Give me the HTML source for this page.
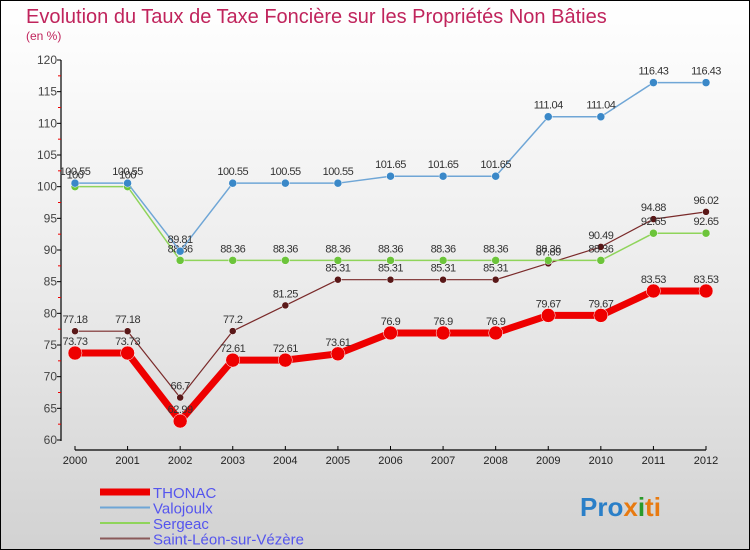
<!DOCTYPE html>
<html><head><meta charset="utf-8"><style>
body{margin:0}
#c{width:750px;height:550px;position:relative;box-sizing:border-box;border:1px solid #000;background:linear-gradient(#fff 0%,#ececec 50%,#d2d2d2 100%);font-family:"Liberation Sans",sans-serif;overflow:hidden}
</style></head><body>
<div id="c">
<svg id="s" width="750" height="550" style="position:absolute;left:-1px;top:-1px">
<text x="26" y="23" font-size="20" fill="#c0245c">Evolution du Taux de Taxe Foncière sur les Propriétés Non Bâties</text>
<text x="26" y="40" font-size="12" fill="#c0245c">(en %)</text>
<g id="axes"></g><g id="series"></g><g id="legend"></g>
<text x="580" y="516" font-size="26" font-weight="bold"><tspan fill="#2a7fc8">Pro</tspan><tspan fill="#e87a10">x</tspan><tspan fill="#2a9a2a">i</tspan><tspan fill="#e87a10">ti</tspan></text>
</svg>
</div>
<script>
const years=[2000,2001,2002,2003,2004,2005,2006,2007,2008,2009,2010,2011,2012];
const yTicks=[60,65,70,75,80,85,90,95,100,105,110,115,120];
const seriesNames=["THONAC","Valojoulx","Sergeac","Saint-Léon-sur-Vézère"];
const thonac=[73.73,73.73,62.99,72.61,72.61,73.61,76.9,76.9,76.9,79.67,79.67,83.53,83.53];
const valojoulx=[100.55,100.55,89.81,100.55,100.55,100.55,101.65,101.65,101.65,111.04,111.04,116.43,116.43];
const sergeac=[100,100,88.36,88.36,88.36,88.36,88.36,88.36,88.36,88.36,88.36,92.65,92.65];
const saintLeon=[77.18,77.18,66.7,77.2,81.25,85.31,85.31,85.31,85.31,87.89,90.49,94.88,96.02];
const NS="http://www.w3.org/2000/svg";
const xs=i=>75+i*(706-75)/(years.length-1);
const ys=v=>440-(v-60)*(380/60);
function mk(t,a,p){const e=document.createElementNS(NS,t);for(const k in a)e.setAttribute(k,a[k]);p.appendChild(e);return e;}
const ax=document.getElementById('axes');
let l=mk('line',{x1:61,y1:60,x2:61,y2:441,stroke:'#000','stroke-width':1.2},ax);


yTicks.forEach(v=>{
 mk('line',{x1:57,y1:ys(v),x2:61,y2:ys(v),stroke:'#000'},ax);
 if(v<120)mk('line',{x1:58,y1:ys(v+2.5),x2:61,y2:ys(v+2.5),stroke:'#e00'},ax);
 const t=mk('text',{x:57,y:ys(v)+4,'font-size':12,fill:'#444','text-anchor':'end'},ax);t.textContent=v;
 
 
});
let xl=mk('line',{x1:75,y1:450,x2:706,y2:450,stroke:'#000','stroke-width':1.2},ax);


years.forEach((y,i)=>{
 mk('line',{x1:xs(i),y1:446,x2:xs(i),y2:450,stroke:'#000'},ax);
 const t=mk('text',{x:xs(i),y:464,'font-size':11,fill:'#222','text-anchor':'middle'},ax);t.textContent=y;
 
 
});
const sg=document.getElementById('series');
const defs=[[saintLeon,'#7a2a2a','#5a1818',1.2,3.5],[sergeac,'#8fd45a','#6cc43a',1.5,4],[valojoulx,'#6fa6d6','#3a88c8',1.5,4],[thonac,'#ee0000','#ee0000',7,7]];
const names=['series-saint-leon','series-sergeac','series-valojoulx','series-thonac'];
defs.forEach((d,k)=>{
 const g=mk('g',{},sg);
 
 
 mk('polyline',{points:d[0].map((v,i)=>xs(i)+','+ys(v)).join(' '),fill:'none',stroke:d[1],'stroke-width':d[3],'stroke-linejoin':'round'},g);
 d[0].forEach((v,i)=>{
  const c=mk('circle',{cx:xs(i),cy:ys(v),r:d[4],fill:d[2],stroke:'#fff','stroke-width':0.5},g);
  
  
  const t=mk('text',{x:xs(i),y:ys(v)-8,'font-size':11,fill:'#333','text-anchor':'middle','letter-spacing':'-0.5'},g);t.textContent=v;
 });
});
const lg=document.getElementById('legend');
const lcol=['#ee0000','#6fa6d6','#8fd45a','#8a5a5a'],lw=[7,2,2,2];
seriesNames.forEach((n,i)=>{
 const y=492+i*15.5;
 const g=mk('g',{},lg);
 
 
 mk('line',{x1:100,y1:y,x2:150,y2:y,stroke:lcol[i],'stroke-width':lw[i]},g);
 const t=mk('text',{x:153,y:y+6,'font-size':15,fill:'#5555ee'},g);t.textContent=n;
});
</script>
</body></html>
